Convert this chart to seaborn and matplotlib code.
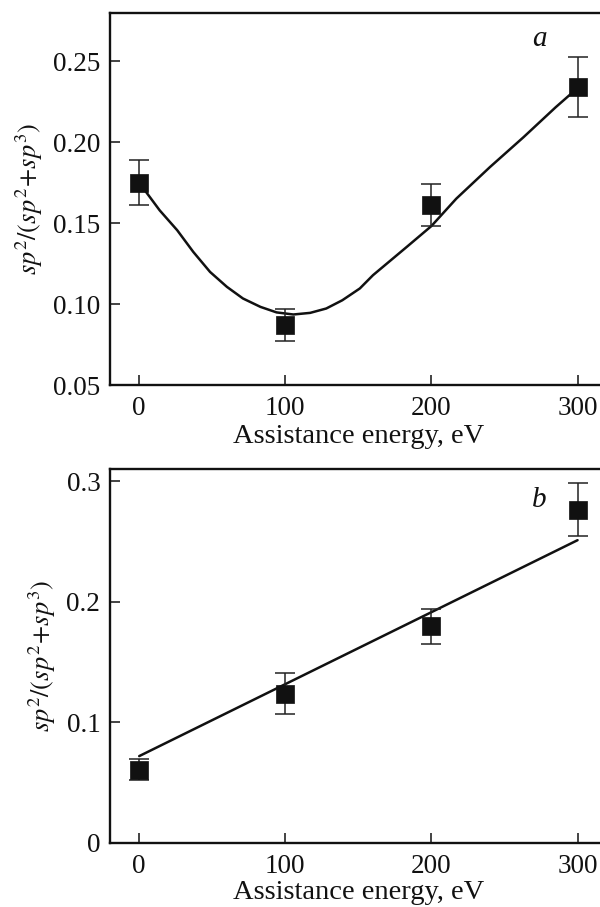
import numpy as np
import pandas as pd
import seaborn as sns
import matplotlib.pyplot as plt

# Panel a: measured points and fitted curve
energy = [0, 100, 200, 300]
ratio_a = [0.175, 0.087, 0.1614, 0.234]
err_a = [0.014, 0.0097, 0.013, 0.0186]
curve_x = [0, 3, 14, 26, 37, 48.5, 60, 71, 83, 94, 105.5, 117, 128, 139, 151,
           160, 183, 200, 217, 240, 263, 285, 298]
curve_a = [0.175, 0.1714, 0.158, 0.1457, 0.1323, 0.1199, 0.1107, 0.1035, 0.0983,
           0.0949, 0.0936, 0.0946, 0.0973, 0.1024, 0.1097, 0.1179, 0.1353, 0.1483,
           0.1652, 0.1847, 0.2032, 0.2217, 0.232]

# Panel b: measured points and linear fit
ratio_b = [0.0608, 0.1238, 0.1796, 0.2762]
err_b = [0.009, 0.0167, 0.0143, 0.022]
fit_x = [0, 300]
fit_b = [0.072, 0.251]

sns.set_style("ticks")
plt.rcParams['font.family'] = ['Liberation Serif', 'DejaVu Serif']
plt.rcParams['mathtext.fontset'] = 'stix'

fig = plt.figure(figsize=(6, 9.07), dpi=100)
ax_a = fig.add_axes([0.1833, 0.5755, 0.828, 0.4102])
ax_b = fig.add_axes([0.1833, 0.0706, 0.828, 0.4123])

ylabel = r'$sp^2/(sp^2\!+\!sp^3)$'

panels = [
    (ax_a, ratio_a, err_a, curve_x, curve_a, (0.05, 0.28), [0.05, 0.10, 0.15, 0.20, 0.25], '{:.2f}', 'a', 0.2642, 2),
    (ax_b, ratio_b, err_b, fit_x, fit_b, (0, 0.31), [0, 0.1, 0.2, 0.3], None, 'b', 0.284, 0.5),
]

for ax, vals, errs, lx, ly, ylim, yticks, fmt, letter, ly_letter, xpad in panels:
    sns.lineplot(x=lx, y=ly, ax=ax, color='#111111', lw=1.8)
    ax.errorbar(energy, vals, yerr=errs, fmt='none', ecolor='#222222',
                elinewidth=1.1, capsize=7, capthick=1.1)
    sns.scatterplot(x=energy, y=vals, ax=ax, marker='s', s=155, color='#111111',
                    edgecolor='#111111', linewidth=0.5, zorder=5)
    ax.set_xlim(-20, 320)
    ax.set_ylim(*ylim)
    ax.set_xticks(energy)
    ax.set_yticks(yticks)
    if fmt:
        ax.set_yticklabels([fmt.format(t) for t in yticks])
    else:
        ax.set_yticklabels(['0' if t == 0 else f'{t:g}' for t in yticks])
    ax.tick_params(direction='in', length=7, width=1.1, labelsize=19.5, pad=7,
                   colors='#111111')
    ax.tick_params(axis='x', pad=8)
    for s in ax.spines.values():
        s.set_linewidth(1.7)
        s.set_color('#111111')
    ax.set_xlabel('Assistance energy, eV', fontsize=20.5, labelpad=xpad, color='#111111')
    ax.set_ylabel(ylabel, fontsize=19, labelpad=6, color='#111111')
    ax.text(274, ly_letter, letter, fontsize=21, style='italic', ha='center',
            va='center', color='#111111')

fig.savefig('out.png', dpi=100)
